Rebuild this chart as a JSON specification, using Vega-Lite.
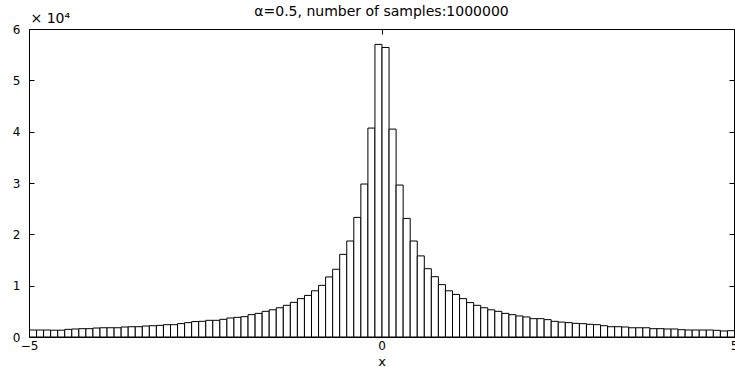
{
  "$schema": "https://vega.github.io/schema/vega-lite/v6.json",
  "width": 705,
  "height": 308,
  "autosize": {"type": "none"},
  "padding": {"left": 29, "top": 29, "right": 1, "bottom": 30},
  "background": "white",
  "config": {
    "font": "DejaVu Sans",
    "view": {"stroke": "black", "strokeWidth": 1},
    "axis": {
      "grid": false,
      "domainColor": "black",
      "tickColor": "black",
      "labelColor": "black",
      "titleColor": "black",
      "labelFont": "DejaVu Sans",
      "titleFont": "DejaVu Sans",
      "labelFontSize": 12,
      "titleFontSize": 13,
      "titleFontWeight": "normal",
      "tickSize": -5
    }
  },
  "title": {
    "text": "α=0.5, number of samples:1000000",
    "fontSize": 14,
    "fontWeight": "normal",
    "font": "DejaVu Sans",
    "color": "black",
    "anchor": "middle",
    "baseline": "alphabetic",
    "offset": 0,
    "dy": 19
  },
  "data": {
    "values": [
      {"x0": -5.0, "x1": -4.9, "count": 1360},
      {"x0": -4.9, "x1": -4.8, "count": 1360},
      {"x0": -4.8, "x1": -4.7, "count": 1360},
      {"x0": -4.7, "x1": -4.6, "count": 1320},
      {"x0": -4.6, "x1": -4.5, "count": 1330},
      {"x0": -4.5, "x1": -4.4, "count": 1490},
      {"x0": -4.4, "x1": -4.3, "count": 1560},
      {"x0": -4.3, "x1": -4.2, "count": 1620},
      {"x0": -4.2, "x1": -4.1, "count": 1620},
      {"x0": -4.1, "x1": -4.0, "count": 1750},
      {"x0": -4.0, "x1": -3.9, "count": 1800},
      {"x0": -3.9, "x1": -3.8, "count": 1800},
      {"x0": -3.8, "x1": -3.7, "count": 1800},
      {"x0": -3.7, "x1": -3.6, "count": 1950},
      {"x0": -3.6, "x1": -3.5, "count": 2000},
      {"x0": -3.5, "x1": -3.4, "count": 2000},
      {"x0": -3.4, "x1": -3.3, "count": 2140},
      {"x0": -3.3, "x1": -3.2, "count": 2200},
      {"x0": -3.2, "x1": -3.1, "count": 2270},
      {"x0": -3.1, "x1": -3.0, "count": 2400},
      {"x0": -3.0, "x1": -2.9, "count": 2400},
      {"x0": -2.9, "x1": -2.8, "count": 2600},
      {"x0": -2.8, "x1": -2.7, "count": 2800},
      {"x0": -2.7, "x1": -2.6, "count": 3000},
      {"x0": -2.6, "x1": -2.5, "count": 3050},
      {"x0": -2.5, "x1": -2.4, "count": 3250},
      {"x0": -2.4, "x1": -2.3, "count": 3250},
      {"x0": -2.3, "x1": -2.2, "count": 3440},
      {"x0": -2.2, "x1": -2.1, "count": 3700},
      {"x0": -2.1, "x1": -2.0, "count": 3830},
      {"x0": -2.0, "x1": -1.9, "count": 3960},
      {"x0": -1.9, "x1": -1.8, "count": 4350},
      {"x0": -1.8, "x1": -1.7, "count": 4600},
      {"x0": -1.7, "x1": -1.6, "count": 5000},
      {"x0": -1.6, "x1": -1.5, "count": 5300},
      {"x0": -1.5, "x1": -1.4, "count": 5700},
      {"x0": -1.4, "x1": -1.3, "count": 6170},
      {"x0": -1.3, "x1": -1.2, "count": 6750},
      {"x0": -1.2, "x1": -1.1, "count": 7470},
      {"x0": -1.1, "x1": -1.0, "count": 8100},
      {"x0": -1.0, "x1": -0.9, "count": 9000},
      {"x0": -0.9, "x1": -0.8, "count": 10060},
      {"x0": -0.8, "x1": -0.7, "count": 11700},
      {"x0": -0.7, "x1": -0.6, "count": 13200},
      {"x0": -0.6, "x1": -0.5, "count": 16100},
      {"x0": -0.5, "x1": -0.4, "count": 18700},
      {"x0": -0.4, "x1": -0.3, "count": 23300},
      {"x0": -0.3, "x1": -0.2, "count": 29800},
      {"x0": -0.2, "x1": -0.1, "count": 40700},
      {"x0": -0.1, "x1": 0.0, "count": 57000},
      {"x0": 0.0, "x1": 0.1, "count": 56400},
      {"x0": 0.1, "x1": 0.2, "count": 40500},
      {"x0": 0.2, "x1": 0.3, "count": 29600},
      {"x0": 0.3, "x1": 0.4, "count": 23100},
      {"x0": 0.4, "x1": 0.5, "count": 18700},
      {"x0": 0.5, "x1": 0.6, "count": 15800},
      {"x0": 0.6, "x1": 0.7, "count": 13300},
      {"x0": 0.7, "x1": 0.8, "count": 11750},
      {"x0": 0.8, "x1": 0.9, "count": 10200},
      {"x0": 0.9, "x1": 1.0, "count": 9000},
      {"x0": 1.0, "x1": 1.1, "count": 8300},
      {"x0": 1.1, "x1": 1.2, "count": 7470},
      {"x0": 1.2, "x1": 1.3, "count": 6700},
      {"x0": 1.3, "x1": 1.4, "count": 6170},
      {"x0": 1.4, "x1": 1.5, "count": 5700},
      {"x0": 1.5, "x1": 1.6, "count": 5300},
      {"x0": 1.6, "x1": 1.7, "count": 5000},
      {"x0": 1.7, "x1": 1.8, "count": 4600},
      {"x0": 1.8, "x1": 1.9, "count": 4350},
      {"x0": 1.9, "x1": 2.0, "count": 4100},
      {"x0": 2.0, "x1": 2.1, "count": 3900},
      {"x0": 2.1, "x1": 2.2, "count": 3570},
      {"x0": 2.2, "x1": 2.3, "count": 3570},
      {"x0": 2.3, "x1": 2.4, "count": 3380},
      {"x0": 2.4, "x1": 2.5, "count": 3050},
      {"x0": 2.5, "x1": 2.6, "count": 2900},
      {"x0": 2.6, "x1": 2.7, "count": 2800},
      {"x0": 2.7, "x1": 2.8, "count": 2660},
      {"x0": 2.8, "x1": 2.9, "count": 2600},
      {"x0": 2.9, "x1": 3.0, "count": 2470},
      {"x0": 3.0, "x1": 3.1, "count": 2400},
      {"x0": 3.1, "x1": 3.2, "count": 2200},
      {"x0": 3.2, "x1": 3.3, "count": 2000},
      {"x0": 3.3, "x1": 3.4, "count": 2000},
      {"x0": 3.4, "x1": 3.5, "count": 1950},
      {"x0": 3.5, "x1": 3.6, "count": 1800},
      {"x0": 3.6, "x1": 3.7, "count": 1800},
      {"x0": 3.7, "x1": 3.8, "count": 1800},
      {"x0": 3.8, "x1": 3.9, "count": 1620},
      {"x0": 3.9, "x1": 4.0, "count": 1620},
      {"x0": 4.0, "x1": 4.1, "count": 1560},
      {"x0": 4.1, "x1": 4.2, "count": 1560},
      {"x0": 4.2, "x1": 4.3, "count": 1430},
      {"x0": 4.3, "x1": 4.4, "count": 1360},
      {"x0": 4.4, "x1": 4.5, "count": 1360},
      {"x0": 4.5, "x1": 4.6, "count": 1360},
      {"x0": 4.6, "x1": 4.7, "count": 1360},
      {"x0": 4.7, "x1": 4.8, "count": 1300},
      {"x0": 4.8, "x1": 4.9, "count": 1170},
      {"x0": 4.9, "x1": 5.0, "count": 1230}
    ]
  },
  "resolve": {"axis": {"x": "independent", "y": "independent"}},
  "layer": [
    {
      "mark": {"type": "bar", "fill": "white", "stroke": "black", "strokeWidth": 1, "binSpacing": 0},
      "encoding": {
        "x": {
          "field": "x0",
          "type": "quantitative",
          "bin": "binned",
          "scale": {"domain": [-5, 5], "nice": false, "zero": false, "padding": 0},
          "axis": {"values": [-5, 0, 5], "title": "x", "labelPadding": 8, "titlePadding": 4, "labelFlush": false, "format": "d"}
        },
        "x2": {"field": "x1"},
        "y": {
          "field": "count",
          "type": "quantitative",
          "scale": {"domain": [0, 60000], "nice": false, "padding": 0},
          "axis": {
            "values": [0, 10000, 20000, 30000, 40000, 50000, 60000],
            "labelExpr": "datum.value / 10000",
            "labelPadding": 14,
            "title": "× 10⁴",
            "titleFontSize": 14,
            "titleAngle": 0,
            "titleAlign": "left",
            "titleBaseline": "alphabetic",
            "titleX": 1,
            "titleY": -7,
            "labelFlush": false
          }
        }
      }
    },
    {
      "mark": {"type": "bar", "opacity": 0},
      "encoding": {
        "x": {
          "field": "x0",
          "type": "quantitative",
          "bin": "binned",
          "axis": {"orient": "top", "values": [-5, 0, 5], "labels": false, "title": null, "domain": false}
        },
        "x2": {"field": "x1"},
        "y": {
          "field": "count",
          "type": "quantitative",
          "axis": {"orient": "right", "values": [0, 10000, 20000, 30000, 40000, 50000, 60000], "labels": false, "title": null, "domain": false}
        }
      }
    }
  ]
}
